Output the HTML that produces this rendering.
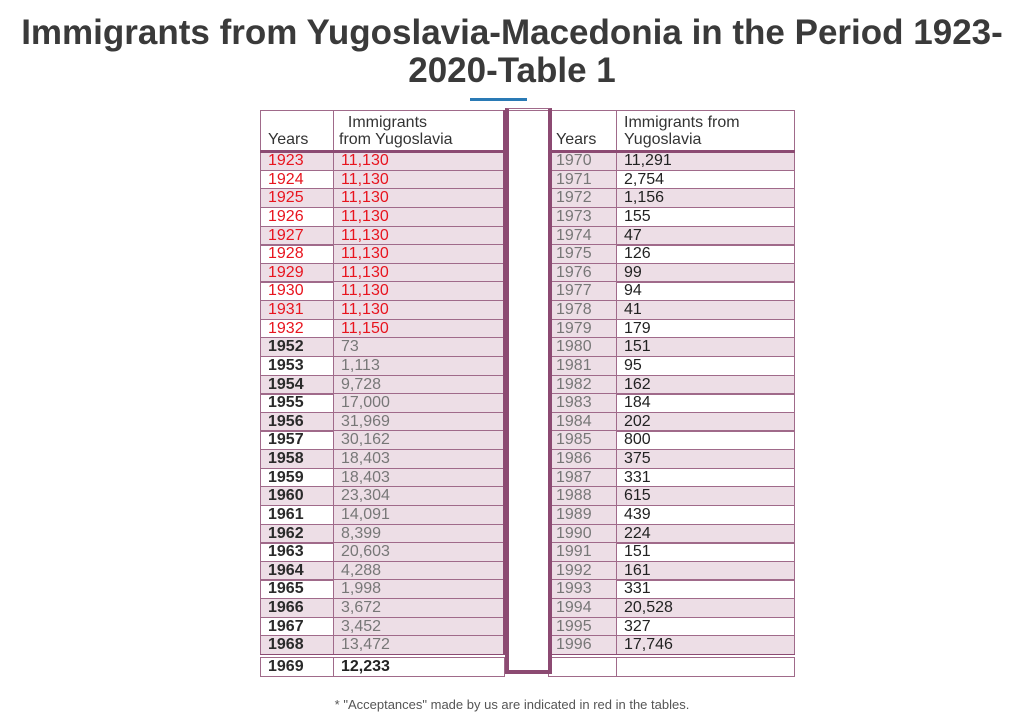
<!DOCTYPE html>
<html><head><meta charset="utf-8">
<style>
body{margin:0;width:1024px;height:717px;background:#fff;position:relative;overflow:hidden;font-family:"Liberation Sans","DejaVu Sans",sans-serif;}
.abs{position:absolute;box-sizing:border-box;}
#title{left:0;top:14px;width:1024px;text-align:center;font-size:35px;font-weight:bold;color:#3a3a3a;line-height:38px;}
.cell{position:absolute;box-sizing:border-box;border:1px solid #a06a8a;font-size:16px;line-height:17px;padding-left:7px;white-space:nowrap;overflow:hidden;}
.sh{background:#eddee6;}
.hd{font-size:16px;color:#333;line-height:17px;}
</style></head><body>
<div id="title" class="abs">Immigrants from Yugoslavia-Macedonia in the Period 1923-<br>2020-Table 1</div>
<div class="abs" style="left:470px;top:98px;width:57px;height:3px;background:#2a7ab5"></div>
<div id="tables"></div>
<div class="abs" style="left:505px;top:108px;width:47px;height:566px;border:4px solid #8c4a72;border-top:1px solid #a06a8a;box-shadow:inset 0 1px 0 #fff, inset 0 2px 0 #a06a8a"></div>
<div class="abs" style="left:0;top:697px;width:1024px;text-align:center;font-size:13px;color:#555">* "Acceptances" made by us are indicated in red in the tables.</div>
<script>
const leftYears=[1923,1924,1925,1926,1927,1928,1929,1930,1931,1932,1952,1953,1954,1955,1956,1957,1958,1959,1960,1961,1962,1963,1964,1965,1966,1967,1968,1969];
const leftValues=["11,130","11,130","11,130","11,130","11,130","11,130","11,130","11,130","11,130","11,150","73","1,113","9,728","17,000","31,969","30,162","18,403","18,403","23,304","14,091","8,399","20,603","4,288","1,998","3,672","3,452","13,472","12,233"];
const rightYears=[1970,1971,1972,1973,1974,1975,1976,1977,1978,1979,1980,1981,1982,1983,1984,1985,1986,1987,1988,1989,1990,1991,1992,1993,1994,1995,1996,""];
const rightValues=["11,291","2,754","1,156","155","47","126","99","94","41","179","151","95","162","184","202","800","375","331","615","439","224","151","161","331","20,528","327","17,746",""];
const redCount=10;
const T=document.getElementById('tables');
const top0=151,rh=18.63;
function cell(x,y,w,h,txt,cls,color,bold,name){
  const d=document.createElement('div');
  d.className='cell '+cls;
  d.style.left=x+'px';d.style.top=y+'px';d.style.width=w+'px';d.style.height=h+'px';
  d.style.color=color;if(bold)d.style.fontWeight='bold';
  d.textContent=txt;
  
  
  T.appendChild(d);return d;
}
let h=cell(260,110,74,42,'','hd','#333',false,'left-years-header');h.innerHTML='<div style="position:absolute;bottom:3px">Years</div>';
h=cell(333,110,172,42,'','hd','#333',false,'left-immigrants-header');h.innerHTML='<div style="position:absolute;bottom:3px;left:5px">&nbsp;&nbsp;Immigrants<br>from Yugoslavia</div>';
h=cell(548,110,69,42,'','hd','#333',false,'right-years-header');h.innerHTML='<div style="position:absolute;bottom:3px">Years</div>';
h=cell(616,110,179,42,'','hd','#333',false,'right-immigrants-header');h.innerHTML='<div style="position:absolute;bottom:3px">Immigrants from<br>Yugoslavia</div>';
for(let i=0;i<leftYears.length;i++){
  const y=Math.round(top0+i*rh)+(i==27?3:0), hh=Math.round(rh)+1;
  const red=i<redCount;
  cell(260,y,74,hh,String(leftYears[i]),i%2==0?'sh':'',red?'#e8141e':'#2a2a2a',!red,'left-year-'+leftYears[i]);
  cell(333,y,172,hh,leftValues[i],i==27?'':'sh',red?'#e8141e':(i==27?'#222':'#777'),i==27,'left-value-'+leftYears[i]);
  cell(548,y,69,hh,String(rightYears[i]),i==27?'':'sh','#777',false,'right-year-'+(rightYears[i]||'blank'));
  cell(616,y,179,hh,rightValues[i],i%2==0?'sh':'','#222',false,'right-value-'+(rightYears[i]||'blank'));
}
function line(x,y,w,hh,name){const d=document.createElement('div');d.className='abs';d.style.cssText+=`left:${x}px;top:${y}px;width:${w}px;height:${hh}px;background:#8c4a72`;


T.appendChild(d);}
line(260,150,247,3,'left-header-rule');line(548,150,247,3,'right-header-rule');
line(260,654,247,1,'left-double-rule');line(548,654,247,1,'right-double-rule');
line(503,110,3,545,'left-table-border');line(548,150,3,505,'right-table-border');
</script>
</body></html>
